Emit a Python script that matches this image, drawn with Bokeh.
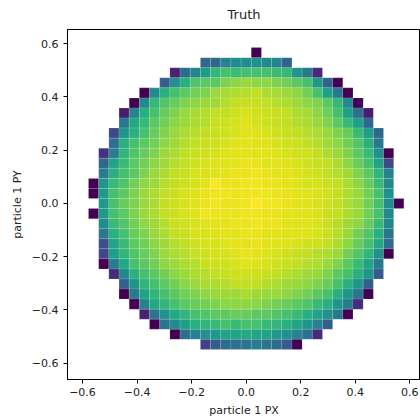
import numpy as np
from bokeh.plotting import figure
from bokeh.models import (ColumnDataSource, LinearColorMapper, FixedTicker,
                          CustomJSTickFormatter, Range1d)
from bokeh.palettes import Viridis256
from bokeh.transform import transform
from bokeh.embed import file_html
from bokeh.resources import INLINE

# ---- data: 2D histogram of particle 1 (PX, PY) ----
x_edge_min, x_edge_max, n_x_bins = -0.578, 0.578, 31
y_edge_min, y_edge_max, n_y_bins = -0.548, 0.585, 30

# first occupied column of every row, top row first
row_starts = [16, 11, 8, 7, 5, 4, 3, 3, 2, 2, 1, 1, 1, 0, 0,
              1, 0, 1, 1, 1, 1, 1, 2, 3, 3, 4, 5, 6, 8, 11]

# bin counts of every row (top row first), from its first occupied column
row_counts = [
    [0],
    [33, 33, 45, 48, 48, 50, 47, 45, 32],
    [10, 35, 45, 55, 66, 70, 68, 70, 70, 70, 68, 66, 52, 40, 12],
    [30, 50, 63, 72, 74, 74, 80, 82, 84, 82, 82, 80, 78, 74, 70, 54, 32, 0],
    [0, 48, 63, 70, 74, 78, 80, 84, 86, 87, 88, 90, 87, 86, 84, 82, 78, 70, 56, 40, 0],
    [0, 47, 66, 72, 76, 80, 82, 84, 85, 88, 90, 91, 91, 90, 88, 87, 85, 82, 80, 74, 66, 47, 0],
    [8, 44, 63, 70, 76, 80, 84, 86, 88, 90, 90, 92, 93, 92, 92, 91, 90, 87, 86, 82, 77, 70, 56, 36, 8],
    [40, 60, 67, 74, 78, 82, 85, 87, 88, 91, 92, 93, 94, 93, 92, 91, 90, 88, 87, 84, 80, 74, 67, 56, 33],
    [22, 52, 63, 70, 76, 80, 84, 87, 88, 90, 91, 92, 93, 94, 94, 93, 92, 91, 90, 88, 87, 84, 80, 76, 67, 56, 33],
    [36, 63, 70, 74, 78, 82, 85, 88, 90, 91, 92, 93, 94, 95, 94, 94, 93, 92, 92, 90, 88, 85, 82, 78, 72, 63, 40],
    [14, 42, 65, 72, 76, 80, 84, 87, 90, 91, 92, 93, 94, 95, 95, 95, 95, 94, 93, 92, 92, 90, 87, 84, 80, 74, 67, 50, 0],
    [33, 58, 67, 74, 78, 82, 85, 88, 90, 92, 93, 94, 94, 95, 96, 96, 95, 95, 94, 93, 92, 91, 90, 87, 82, 76, 70, 58, 22],
    [42, 63, 70, 74, 80, 84, 87, 90, 91, 93, 93, 94, 95, 96, 96, 97, 96, 95, 95, 94, 93, 92, 90, 88, 85, 80, 74, 65, 44],
    [0, 52, 67, 72, 78, 82, 85, 88, 90, 92, 93, 95, 99, 96, 96, 97, 97, 96, 96, 95, 94, 93, 93, 91, 90, 87, 82, 76, 67, 47],
    [0, 54, 70, 74, 80, 84, 87, 90, 91, 93, 94, 96, 97, 97, 96, 97, 97, 97, 96, 96, 95, 94, 93, 92, 90, 87, 84, 78, 70, 50],
    [54, 70, 76, 80, 84, 87, 90, 92, 93, 94, 96, 97, 96, 96, 97, 99, 97, 97, 96, 95, 94, 93, 92, 90, 87, 84, 78, 70, 48, 0],
    [0, 54, 70, 74, 80, 84, 87, 90, 91, 93, 94, 97, 96, 96, 96, 97, 97, 96, 96, 95, 95, 94, 93, 91, 90, 87, 84, 78, 70, 46],
    [48, 67, 72, 78, 82, 85, 88, 91, 92, 93, 94, 95, 95, 96, 96, 97, 96, 96, 95, 94, 94, 93, 91, 88, 85, 82, 76, 67, 46],
    [40, 63, 70, 76, 80, 84, 87, 90, 91, 93, 93, 94, 95, 95, 96, 96, 95, 95, 94, 94, 94, 93, 91, 88, 84, 78, 72, 63, 38],
    [24, 58, 67, 74, 78, 82, 85, 88, 90, 92, 93, 93, 94, 95, 95, 96, 95, 94, 94, 93, 92, 92, 90, 87, 82, 76, 70, 60, 35],
    [22, 55, 65, 72, 76, 80, 84, 87, 88, 91, 92, 93, 93, 94, 96, 95, 94, 93, 92, 91, 90, 88, 87, 84, 78, 72, 65, 50, 0],
    [0, 42, 60, 70, 74, 78, 82, 85, 87, 88, 91, 92, 92, 93, 94, 94, 93, 92, 91, 90, 88, 87, 84, 80, 74, 67, 58, 40],
    [12, 46, 63, 70, 74, 78, 82, 85, 87, 88, 90, 91, 92, 92, 92, 91, 90, 88, 87, 85, 84, 80, 74, 70, 63, 52, 28],
    [30, 52, 65, 70, 74, 78, 82, 84, 87, 87, 88, 90, 90, 90, 88, 87, 85, 84, 82, 80, 76, 70, 63, 52, 30],
    [0, 40, 58, 65, 70, 74, 78, 80, 82, 84, 85, 85, 87, 85, 84, 84, 82, 80, 78, 74, 70, 63, 52, 38, 0],
    [0, 44, 60, 65, 70, 74, 76, 78, 80, 82, 82, 82, 82, 80, 78, 76, 74, 72, 67, 62, 52, 42, 12],
    [10, 38, 50, 60, 65, 70, 72, 74, 74, 76, 76, 74, 74, 72, 70, 67, 62, 58, 50, 40, 0],
    [0, 38, 48, 56, 62, 65, 67, 70, 67, 70, 70, 67, 65, 62, 58, 52, 44, 30],
    [0, 36, 44, 50, 54, 58, 58, 60, 58, 58, 54, 50, 44, 36, 12],
    [20, 30, 35, 36, 38, 42, 38, 35, 28, 0],
]

tick_values = [-0.6, -0.4, -0.2, 0.0, 0.2, 0.4, 0.6]

# ---- build the cells from the bin edges ----
x_edges = np.linspace(x_edge_min, x_edge_max, n_x_bins + 1)
y_edges = np.linspace(y_edge_min, y_edge_max, n_y_bins + 1)
left, right, bottom, top, cnt = [], [], [], [], []
for r, (start, vals) in enumerate(zip(row_starts, row_counts)):
    yi = n_y_bins - 1 - r
    for k, v in enumerate(vals):
        c = start + k
        left.append(x_edges[c]); right.append(x_edges[c + 1])
        bottom.append(y_edges[yi]); top.append(y_edges[yi + 1])
        cnt.append(v)
src = ColumnDataSource(dict(left=left, right=right, bottom=bottom, top=top, count=cnt))

mapper = LinearColorMapper(palette=Viridis256, low=min(cnt), high=max(cnt))

p = figure(width=420, height=419, title="Truth",
           x_range=Range1d(-0.655, 0.639), y_range=Range1d(-0.661, 0.653),
           output_backend="svg", toolbar_location=None,
           min_border_left=67, min_border_right=0, min_border_top=28, min_border_bottom=38)

p.quad(left="left", right="right", bottom="bottom", top="top", source=src,
       fill_color=transform("count", mapper), line_color="white",
       line_alpha=0.2, line_width=0.6)

p.xgrid.visible = False
p.ygrid.visible = False
p.background_fill_color = "white"
p.border_fill_color = "white"
p.outline_line_color = "black"
p.outline_line_alpha = 1.0
p.outline_line_width = 1

fmt = CustomJSTickFormatter(code="return (tick < -1e-9 ? '\u2212' : '') + Math.abs(tick).toFixed(1);")
for ax in (p.xaxis[0], p.yaxis[0]):
    ax.ticker = FixedTicker(ticks=tick_values)
    ax.formatter = fmt
    ax.major_tick_in = 0
    ax.major_tick_out = 4
    ax.minor_tick_in = 0
    ax.minor_tick_out = 0
    ax.axis_line_color = "black"
    ax.major_tick_line_color = "black"
    ax.major_label_text_font = "DejaVu Sans"
    ax.major_label_text_font_size = "11px"
    ax.major_label_text_color = "#222222"
    ax.axis_label_text_font = "DejaVu Sans"
    ax.axis_label_text_font_size = "11px"
    ax.axis_label_text_font_style = "normal"
    ax.axis_label_text_color = "#222222"

p.xaxis.axis_label = "particle 1 PX"
p.yaxis.axis_label = "particle 1 PY"
p.xaxis.major_label_standoff = 4
p.xaxis.axis_label_standoff = 5
p.yaxis.major_label_standoff = 5
p.yaxis.axis_label_standoff = 5

p.title.text_font = "DejaVu Sans"
p.title.text_font_size = "13px"
p.title.text_font_style = "normal"
p.title.text_color = "#222222"
p.title.align = "center"
p.title.vertical_align = "top"
p.title.standoff = 12

open("out.html", "w").write(file_html(p, INLINE))
